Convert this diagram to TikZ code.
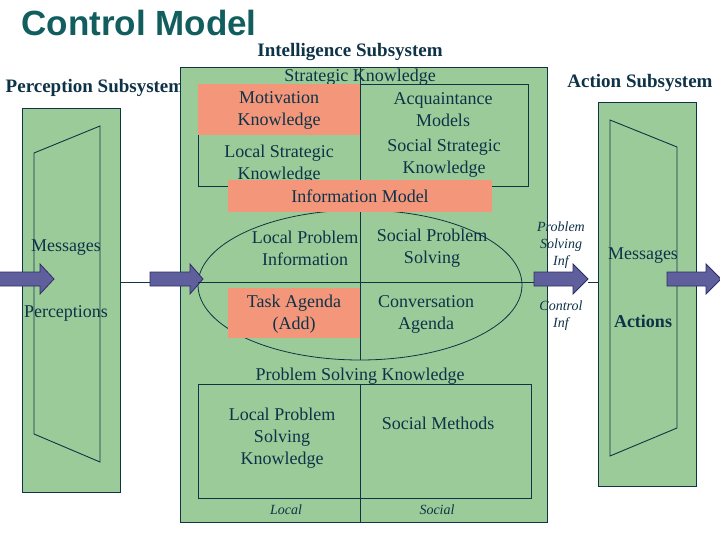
\documentclass[tikz,border=0pt]{standalone}
\usepackage{fontspec}
\setmainfont{Liberation Serif}
\newfontfamily\titlefont{Liberation Sans}
\definecolor{grn}{RGB}{155,203,152}
\definecolor{salm}{RGB}{243,150,122}
\definecolor{edgec}{RGB}{16,52,70}
\definecolor{txt}{RGB}{14,50,72}
\definecolor{ttl}{RGB}{18,94,94}
\definecolor{arrfill}{RGB}{95,95,158}
\definecolor{arredge}{RGB}{45,45,100}
\newcommand\blkarrow[4]{% name, tail x, head base x, tip x  (centre y = 279)
  \path[blockarrow] (#2,272) -- (#3,272) -- (#3,264) -- (#4,279) -- (#3,294) -- (#3,286) -- (#2,286) -- cycle;
  \coordinate (#1tail) at (#2,282);
  \coordinate (#1tip) at (#4,282);}
\begin{document}
\begin{tikzpicture}[x=1pt,y=-1pt,
  box/.style={draw=edgec, fill=grn, line width=1pt, inner sep=0, minimum width=#1},
  frame/.style={draw=edgec, line width=0.9pt},
  salmonbox/.style={fill=salm, draw=none, inner sep=0},
  ln/.style={draw=edgec, line width=0.8pt},
  body/.style={text=txt, font=\fontsize{18}{22}\selectfont, align=center, inner sep=0},
  heading/.style={text=txt, font=\bfseries\fontsize{19}{22}\selectfont, inner sep=0},
  ital/.style={text=txt, font=\itshape\fontsize{14}{17}\selectfont, align=center, inner sep=0},
  blockarrow/.style={fill=arrfill, draw=arredge, line width=0.8pt, line join=miter}]
\useasboundingbox (0,0) rectangle (720,540);

% title and headings
\node[text=ttl, font=\titlefont\bfseries\fontsize{35}{40}\selectfont, inner sep=0] (title) at (139,23) {Control Model};
\node[heading] (hint) at (350,52) {Intelligence Subsystem};
\node[heading] (hper) at (95,88) {Perception Subsystem};
\node[heading] (hact) at (640,83) {Action Subsystem};

\coordinate (axis) at (0,282);

% perception subsystem
\node[box=98pt, minimum height=384pt, anchor=north west] (perc) at (22,108) {};
\draw[frame] (34,153) -- (100,126) -- (100,462) -- (34,434) -- cycle;
\node[body] (pmsg) at (66,248) {Messages};
\node[body] (pper) at (66,313) {Perceptions};

% action subsystem
\node[box=98pt, minimum height=384pt, anchor=north west] (act) at (598,102) {};
\draw[frame] (610,120) -- (677,147) -- (677,428) -- (610,456) -- cycle;
\node[body] (amsg) at (643,256) {Messages};
\node[body, font=\bfseries\fontsize{18}{22}\selectfont] (aact) at (643,321) {Actions};

% intelligence subsystem
\node[box=367pt, minimum height=455pt, anchor=north west] (intel) at (180,67) {};
\draw[frame] (198,84) rectangle (528,186);
\draw[ln] (360,67) -- (360,360);
\draw[ln] (360,285) ellipse [x radius=162, y radius=75];
\coordinate (ellw) at (198,282);
\draw[frame] (198,384) rectangle (531,498);
\draw[ln] (360,384) -- (360,522);

\node[body] (stratk) at (360,77) {Strategic Knowledge};
\node[body] (lstrat) at (279,164) {Local Strategic\\Knowledge};
\node[body] (acq) at (443,110) {Acquaintance\\Models};
\node[body] (sstrat) at (444,158) {Social Strategic\\Knowledge};

\node[salmonbox, minimum width=162pt, minimum height=51pt, anchor=north west] (motbox) at (198,84) {};
\node[body] (mot) at (279,110) {Motivation\\Knowledge};
\node[salmonbox, minimum width=264pt, minimum height=32pt, anchor=north west] (infbox) at (228,180) {};
\node[body] (inf) at (360,196) {Information Model};
\node[salmonbox, minimum width=132pt, minimum height=50pt, anchor=north west] (taskbox) at (228,288) {};

\node[body] (lpi) at (305,248) {Local Problem\\Information};
\node[body] (sps) at (432,248) {Social Problem\\Solving};
\node[body] (task) at (294,314) {Task Agenda\\(Add)};
\node[body] (conv) at (426,314) {Conversation\\Agenda};

\node[body] (psk) at (360,376) {Problem Solving Knowledge};
\node[body] (lpsk) at (282,438) {Local Problem\\Solving\\Knowledge};
\node[body] (smeth) at (438,423) {Social Methods};
\node[ital] (loc) at (286,510) {Local};
\node[ital] (soc) at (437,510) {Social};

% italic labels between intelligence and action
\node[ital] (psi) at (561,245) {Problem\\Solving\\Inf};
\node[ital] (ci) at (561,316) {Control\\Inf};

% arrows and connectors
\blkarrow{aone}{-2}{40}{54}
\blkarrow{atwo}{150}{190}{203}
\blkarrow{athree}{534}{573}{588}
\blkarrow{afour}{667}{706}{721}
\draw[ln] (perc.east |- axis) -- (atwotail);
\draw[ln] (ellw) -- (athreetail);
\draw[ln] (athreetip) -- (act.west |- axis);
\end{tikzpicture}
\end{document}
